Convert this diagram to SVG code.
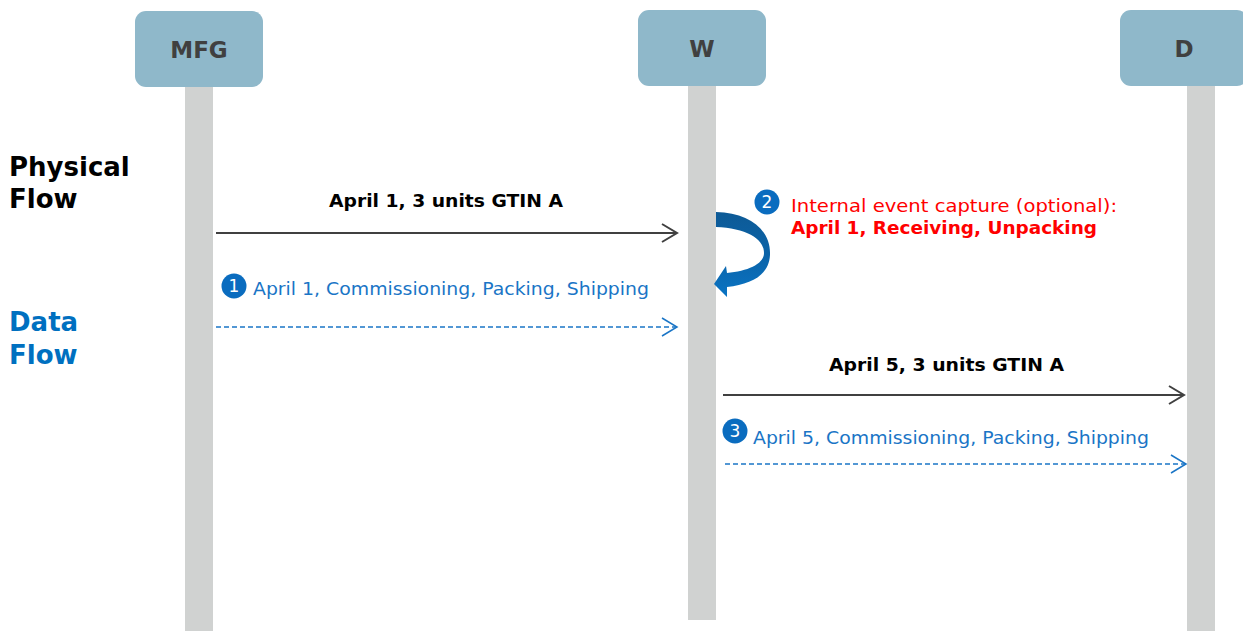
<svg xmlns="http://www.w3.org/2000/svg" width="1243" height="631" viewBox="0 0 1243 631">
<style>
.box{fill:#8FB8CA}
.life{fill:#D0D2D1}
.bl{font-family:"DejaVu Sans",Verdana,sans-serif;font-weight:bold;font-size:23px;fill:#404040;text-anchor:middle}
.side{font-family:"DejaVu Sans",Verdana,sans-serif;font-weight:bold;font-size:26px}
.ph{font-family:"DejaVu Sans",Verdana,sans-serif;font-weight:bold;font-size:17px;fill:#000}
.dt{font-family:"DejaVu Sans",Verdana,sans-serif;font-size:17px;fill:#1A75C6}
.rd{font-family:"DejaVu Sans",Verdana,sans-serif;font-size:17px;fill:#FF0000}
.num{font-family:"DejaVu Sans",Verdana,sans-serif;font-size:17px;fill:#fff;text-anchor:middle}
.pl{stroke:#404040;stroke-width:2;fill:none}
.dl{stroke:#1A75C6;stroke-width:1.5;stroke-dasharray:5 3;fill:none}
</style>
<defs>
<marker id="ah" markerUnits="userSpaceOnUse" markerWidth="20" markerHeight="22" refX="17" refY="11" orient="auto">
<path d="M2,2 L17,11 L2,20" fill="none" stroke="#404040" stroke-width="2"/>
</marker>
<marker id="ahb" markerUnits="userSpaceOnUse" markerWidth="20" markerHeight="22" refX="17" refY="11" orient="auto">
<path d="M2,2 L17,11 L2,20" fill="none" stroke="#1A75C6" stroke-width="1.5"/>
</marker>
<linearGradient id="cg" x1="0" y1="0" x2="0" y2="1">
<stop offset="0" stop-color="#0D5A96"/>
<stop offset="0.5" stop-color="#0B63A8"/>
<stop offset="1" stop-color="#0A74C4"/>
</linearGradient>
</defs>

<g id="lifelines">
<rect class="life" x="185" y="85" width="28" height="546"/>
<rect class="life" x="688" y="84" width="28" height="536"/>
<rect class="life" x="1187" y="84" width="28" height="547"/>
</g>

<g id="node-mfg">
<rect class="box" x="135" y="11" width="128" height="76" rx="11"/>
<text class="bl" x="199" y="58">MFG</text>
</g>
<g id="node-w">
<rect class="box" x="638" y="10" width="128" height="76" rx="11"/>
<text class="bl" x="702" y="57">W</text>
</g>
<g id="node-d">
<rect class="box" x="1120" y="10" width="128" height="76" rx="11"/>
<text class="bl" x="1184" y="57">D</text>
</g>

<g id="side-labels">
<text class="side" x="9" y="176" fill="#000">Physical</text>
<text class="side" x="9" y="208" fill="#000">Flow</text>
<text class="side" x="9" y="331" fill="#0070C0">Data</text>
<text class="side" x="9" y="364" fill="#0070C0">Flow</text>
</g>

<g id="connectors">
<line class="pl" x1="216" y1="233" x2="677" y2="233" marker-end="url(#ah)"/>
<line class="dl" x1="216" y1="327" x2="677" y2="327" marker-end="url(#ahb)"/>
<line class="pl" x1="723" y1="395" x2="1184" y2="395" marker-end="url(#ah)"/>
<line class="dl" x1="725" y1="464" x2="1186" y2="464" marker-end="url(#ahb)"/>
<path id="self-loop" fill="url(#cg)" d="M716,212 C750,213 771,230 770,255 C769,275 752,284 727,287 L727,297 L714,284 L726,266 L727,273 C748,271 764,264 764,253 C764,238 745,228 716,227 Z"/>
</g>

<g id="labels">
<text class="ph" x="329" y="207" textLength="234" lengthAdjust="spacingAndGlyphs">April 1, 3 units GTIN A</text>
<text class="ph" x="829" y="371" textLength="235" lengthAdjust="spacingAndGlyphs">April 5, 3 units GTIN A</text>

<circle cx="234" cy="286" r="12.5" fill="#0A6CBF"/>
<text class="num" x="234" y="292">1</text>
<text class="dt" x="253" y="295" textLength="396" lengthAdjust="spacingAndGlyphs">April 1, Commissioning, Packing, Shipping</text>

<circle cx="767" cy="202" r="12.5" fill="#0A6CBF"/>
<text class="num" x="767" y="208">2</text>
<text class="rd" x="791" y="212" textLength="326" lengthAdjust="spacingAndGlyphs">Internal event capture (optional):</text>
<text class="rd" x="791" y="234" font-weight="bold" textLength="306" lengthAdjust="spacingAndGlyphs">April 1, Receiving, Unpacking</text>

<circle cx="735" cy="431" r="12.5" fill="#0A6CBF"/>
<text class="num" x="735" y="437">3</text>
<text class="dt" x="753" y="444" textLength="396" lengthAdjust="spacingAndGlyphs">April 5, Commissioning, Packing, Shipping</text>
</g>
</svg>
